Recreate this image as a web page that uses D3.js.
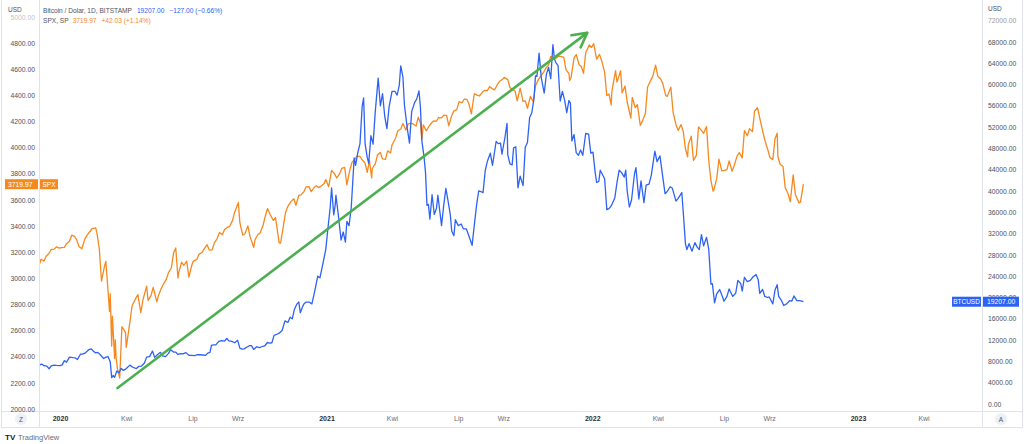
<!DOCTYPE html>
<html><head><meta charset="utf-8">
<script src="https://cdn.jsdelivr.net/npm/d3@7"></script>
<style>
html,body{margin:0;padding:0;background:#fff;}
svg{display:block;font-family:"Liberation Sans",Arial,sans-serif;}
</style></head>
<body>
<svg id="chart" width="1024" height="444"></svg>
<script>
// ---------------- DATA ----------------
const btcDates = ["2019-12-03","2019-12-07","2019-12-10","2019-12-14","2019-12-17","2019-12-20","2019-12-24","2019-12-27","2020-01-01","2020-01-04","2020-01-07","2020-01-10","2020-01-14","2020-01-19","2020-01-22","2020-01-25","2020-01-29","2020-02-01","2020-02-05","2020-02-09","2020-02-13","2020-02-16","2020-02-19","2020-02-22","2020-02-25","2020-03-01","2020-03-04","2020-03-07","2020-03-10","2020-03-12","2020-03-14","2020-03-16","2020-03-19","2020-03-22","2020-03-25","2020-03-28","2020-04-01","2020-04-06","2020-04-10","2020-04-15","2020-04-18","2020-04-22","2020-04-26","2020-04-29","2020-05-03","2020-05-07","2020-05-10","2020-05-14","2020-05-18","2020-05-21","2020-05-25","2020-05-29","2020-06-01","2020-06-05","2020-06-08","2020-06-11","2020-06-15","2020-06-18","2020-06-22","2020-06-26","2020-06-30","2020-07-04","2020-07-07","2020-07-11","2020-07-15","2020-07-19","2020-07-22","2020-07-25","2020-07-27","2020-07-30","2020-08-02","2020-08-06","2020-08-10","2020-08-14","2020-08-17","2020-08-20","2020-08-24","2020-08-28","2020-09-01","2020-09-04","2020-09-07","2020-09-10","2020-09-14","2020-09-17","2020-09-20","2020-09-23","2020-09-27","2020-10-01","2020-10-05","2020-10-08","2020-10-12","2020-10-15","2020-10-18","2020-10-21","2020-10-25","2020-10-28","2020-11-01","2020-11-05","2020-11-09","2020-11-12","2020-11-15","2020-11-18","2020-11-21","2020-11-24","2020-11-26","2020-11-29","2020-12-01","2020-12-04","2020-12-08","2020-12-12","2020-12-16","2020-12-20","2020-12-23","2020-12-27","2020-12-31","2021-01-03","2021-01-06","2021-01-08","2021-01-11","2021-01-13","2021-01-14","2021-01-17","2021-01-21","2021-01-24","2021-01-27","2021-01-29","2021-02-01","2021-02-04","2021-02-08","2021-02-10","2021-02-13","2021-02-16","2021-02-19","2021-02-21","2021-02-23","2021-02-26","2021-02-28","2021-03-03","2021-03-06","2021-03-09","2021-03-13","2021-03-16","2021-03-19","2021-03-22","2021-03-25","2021-03-28","2021-04-01","2021-04-05","2021-04-08","2021-04-11","2021-04-13","2021-04-16","2021-04-18","2021-04-22","2021-04-25","2021-04-28","2021-05-02","2021-05-05","2021-05-08","2021-05-10","2021-05-12","2021-05-15","2021-05-17","2021-05-19","2021-05-21","2021-05-23","2021-05-26","2021-05-29","2021-06-01","2021-06-03","2021-06-06","2021-06-08","2021-06-11","2021-06-14","2021-06-17","2021-06-20","2021-06-22","2021-06-25","2021-06-27","2021-07-01","2021-07-05","2021-07-08","2021-07-12","2021-07-15","2021-07-20","2021-07-23","2021-07-26","2021-07-29","2021-08-01","2021-08-04","2021-08-07","2021-08-10","2021-08-14","2021-08-17","2021-08-22","2021-08-25","2021-08-28","2021-08-30","2021-09-03","2021-09-06","2021-09-07","2021-09-10","2021-09-13","2021-09-15","2021-09-18","2021-09-21","2021-09-24","2021-09-28","2021-10-01","2021-10-04","2021-10-07","2021-10-10","2021-10-13","2021-10-15","2021-10-17","2021-10-20","2021-10-23","2021-10-27","2021-10-30","2021-11-02","2021-11-05","2021-11-08","2021-11-10","2021-11-12","2021-11-15","2021-11-18","2021-11-21","2021-11-24","2021-11-27","2021-11-30","2021-12-02","2021-12-04","2021-12-07","2021-12-10","2021-12-13","2021-12-16","2021-12-19","2021-12-23","2021-12-27","2021-12-30","2022-01-02","2022-01-05","2022-01-07","2022-01-10","2022-01-12","2022-01-15","2022-01-18","2022-01-21","2022-01-24","2022-01-27","2022-02-01","2022-02-04","2022-02-07","2022-02-10","2022-02-14","2022-02-16","2022-02-18","2022-02-21","2022-02-24","2022-02-28","2022-03-02","2022-03-06","2022-03-09","2022-03-13","2022-03-16","2022-03-20","2022-03-23","2022-03-28","2022-03-31","2022-04-04","2022-04-07","2022-04-11","2022-04-14","2022-04-18","2022-04-21","2022-04-26","2022-04-29","2022-05-04","2022-05-06","2022-05-09","2022-05-11","2022-05-14","2022-05-18","2022-05-22","2022-05-25","2022-05-28","2022-05-31","2022-06-03","2022-06-07","2022-06-10","2022-06-13","2022-06-15","2022-06-18","2022-06-21","2022-06-25","2022-06-29","2022-07-01","2022-07-05","2022-07-08","2022-07-13","2022-07-17","2022-07-20","2022-07-24","2022-07-26","2022-07-29","2022-08-02","2022-08-06","2022-08-10","2022-08-14","2022-08-17","2022-08-19","2022-08-23","2022-08-26","2022-08-30","2022-09-01","2022-09-06","2022-09-09","2022-09-12","2022-09-14","2022-09-18","2022-09-21","2022-09-25","2022-09-29","2022-10-02","2022-10-05","2022-10-09","2022-10-13","2022-10-16","2022-10-18"];
const btcValues = [7300,7500,7200,7100,6620,7150,7300,7250,7200,7350,8150,7850,8800,8700,8650,8350,9350,9350,9600,10150,10350,9900,9600,9700,9300,8550,8800,8900,7900,4950,5350,5000,6200,5850,6700,6300,6650,7300,6900,6650,7050,7130,7700,8800,8900,9950,8750,9300,9700,9050,8900,9500,10200,9750,9750,9300,9450,9400,9650,9150,9150,9100,9250,9250,9200,9150,9550,9700,11000,11100,11100,11750,11900,11800,12300,11850,11750,11500,11950,10500,10300,10350,10700,10950,10950,10250,10750,10600,10800,10900,11550,11450,11500,12900,13100,13300,13800,15600,15300,16300,16000,17800,18700,19150,17150,18200,18800,19150,19150,18800,21300,24000,23700,26300,29000,33000,36800,40600,35500,37400,39200,35800,30800,32300,30400,34300,33500,36900,46200,44800,47200,48900,55900,57500,48900,46300,45200,50400,48800,54900,61200,56000,58300,54000,51700,55800,58700,58700,58000,59900,63500,61400,56200,51700,49000,54900,56600,57300,58800,55800,49400,46400,43500,37300,37500,34700,39300,35600,36700,39200,35800,33500,37300,40500,38100,35600,32500,31600,34600,33500,33800,32900,32900,31800,29800,33600,37200,40000,39900,39700,43800,45600,47100,44800,49300,48900,49000,46900,50000,52700,46800,45100,44900,48100,48300,40600,42800,41000,48200,49100,53800,54700,57400,61600,61500,65900,61300,58400,61900,63200,61100,67500,64900,64100,63600,56900,58700,57100,54700,57000,56500,49400,50600,47200,46700,47700,46700,50800,50700,47100,47300,43500,41600,41800,43900,43100,42300,36500,36700,37200,38700,41600,43900,43500,42600,43900,40000,37000,38300,43200,44400,38500,41900,37800,41100,41300,42900,47500,45500,46600,43500,39500,39900,40800,40500,38100,38600,39700,36000,30100,29000,30100,28700,30300,29500,29000,31800,29700,31300,29100,22500,22600,19000,20700,21500,20100,19300,20200,21600,20200,20800,23200,22600,21200,23800,23000,23200,23900,24300,23300,20800,21500,20200,20000,20100,18800,21400,22400,20200,19400,18500,18800,19400,19300,20300,19400,19400,19300,19207];

const spxDates = ["2019-12-03","2019-12-06","2019-12-10","2019-12-13","2019-12-17","2019-12-20","2019-12-24","2019-12-27","2019-12-31","2020-01-03","2020-01-07","2020-01-10","2020-01-14","2020-01-17","2020-01-21","2020-01-24","2020-01-27","2020-01-31","2020-02-04","2020-02-07","2020-02-11","2020-02-14","2020-02-19","2020-02-21","2020-02-24","2020-02-27","2020-03-02","2020-03-04","2020-03-09","2020-03-10","2020-03-12","2020-03-13","2020-03-16","2020-03-17","2020-03-18","2020-03-20","2020-03-23","2020-03-26","2020-03-31","2020-04-01","2020-04-06","2020-04-09","2020-04-14","2020-04-17","2020-04-21","2020-04-24","2020-04-29","2020-05-01","2020-05-05","2020-05-08","2020-05-13","2020-05-15","2020-05-19","2020-05-22","2020-05-26","2020-05-29","2020-06-02","2020-06-05","2020-06-08","2020-06-11","2020-06-12","2020-06-16","2020-06-19","2020-06-23","2020-06-26","2020-06-30","2020-07-02","2020-07-07","2020-07-10","2020-07-14","2020-07-17","2020-07-21","2020-07-24","2020-07-28","2020-07-31","2020-08-04","2020-08-07","2020-08-11","2020-08-14","2020-08-18","2020-08-21","2020-08-25","2020-08-28","2020-09-02","2020-09-04","2020-09-08","2020-09-11","2020-09-15","2020-09-18","2020-09-23","2020-09-25","2020-09-29","2020-10-02","2020-10-06","2020-10-09","2020-10-12","2020-10-16","2020-10-20","2020-10-23","2020-10-28","2020-10-30","2020-11-04","2020-11-06","2020-11-09","2020-11-13","2020-11-17","2020-11-20","2020-11-24","2020-11-27","2020-12-01","2020-12-04","2020-12-08","2020-12-11","2020-12-15","2020-12-18","2020-12-21","2020-12-24","2020-12-29","2020-12-31","2021-01-04","2021-01-08","2021-01-12","2021-01-15","2021-01-19","2021-01-22","2021-01-26","2021-01-29","2021-02-02","2021-02-05","2021-02-09","2021-02-12","2021-02-16","2021-02-19","2021-02-23","2021-02-26","2021-03-01","2021-03-04","2021-03-05","2021-03-09","2021-03-12","2021-03-16","2021-03-19","2021-03-23","2021-03-26","2021-03-30","2021-04-01","2021-04-06","2021-04-09","2021-04-13","2021-04-16","2021-04-20","2021-04-23","2021-04-27","2021-04-30","2021-05-04","2021-05-07","2021-05-10","2021-05-12","2021-05-14","2021-05-18","2021-05-21","2021-05-25","2021-05-28","2021-06-01","2021-06-04","2021-06-08","2021-06-11","2021-06-15","2021-06-18","2021-06-22","2021-06-25","2021-06-29","2021-07-02","2021-07-06","2021-07-09","2021-07-13","2021-07-16","2021-07-19","2021-07-23","2021-07-27","2021-07-30","2021-08-03","2021-08-06","2021-08-10","2021-08-13","2021-08-17","2021-08-20","2021-08-24","2021-08-27","2021-08-31","2021-09-02","2021-09-07","2021-09-10","2021-09-14","2021-09-17","2021-09-20","2021-09-24","2021-09-28","2021-10-01","2021-10-04","2021-10-08","2021-10-12","2021-10-15","2021-10-19","2021-10-22","2021-10-26","2021-10-29","2021-11-02","2021-11-05","2021-11-09","2021-11-12","2021-11-16","2021-11-19","2021-11-23","2021-11-26","2021-11-30","2021-12-01","2021-12-03","2021-12-07","2021-12-10","2021-12-14","2021-12-17","2021-12-20","2021-12-23","2021-12-28","2021-12-31","2022-01-03","2022-01-07","2022-01-11","2022-01-14","2022-01-18","2022-01-21","2022-01-24","2022-01-27","2022-01-28","2022-02-02","2022-02-04","2022-02-09","2022-02-11","2022-02-15","2022-02-18","2022-02-23","2022-02-25","2022-03-01","2022-03-04","2022-03-08","2022-03-11","2022-03-15","2022-03-18","2022-03-22","2022-03-25","2022-03-29","2022-04-01","2022-04-05","2022-04-08","2022-04-12","2022-04-14","2022-04-19","2022-04-22","2022-04-26","2022-04-29","2022-05-03","2022-05-06","2022-05-09","2022-05-12","2022-05-13","2022-05-17","2022-05-20","2022-05-24","2022-05-27","2022-05-31","2022-06-03","2022-06-07","2022-06-10","2022-06-13","2022-06-16","2022-06-17","2022-06-21","2022-06-24","2022-06-28","2022-07-01","2022-07-05","2022-07-08","2022-07-12","2022-07-15","2022-07-19","2022-07-22","2022-07-26","2022-07-29","2022-08-02","2022-08-05","2022-08-09","2022-08-12","2022-08-16","2022-08-19","2022-08-23","2022-08-26","2022-08-30","2022-09-02","2022-09-06","2022-09-09","2022-09-12","2022-09-13","2022-09-16","2022-09-20","2022-09-23","2022-09-27","2022-09-30","2022-10-04","2022-10-07","2022-10-12","2022-10-14","2022-10-18"];
const spxValues = [3093,3146,3132,3169,3192,3221,3223,3240,3231,3235,3237,3265,3283,3330,3321,3295,3244,3226,3298,3328,3358,3380,3386,3338,3226,2979,3090,3130,2747,2882,2481,2711,2386,2529,2398,2305,2237,2630,2585,2471,2664,2790,2846,2875,2737,2837,2940,2831,2868,2930,2820,2864,2922,2955,2992,3044,3081,3194,3232,3002,3041,3124,3098,3131,3009,3100,3130,3145,3185,3197,3225,3257,3216,3218,3271,3306,3351,3333,3373,3390,3397,3443,3508,3580,3427,3331,3341,3401,3319,3237,3298,3335,3348,3408,3477,3534,3484,3443,3465,3271,3270,3443,3510,3551,3585,3610,3558,3635,3638,3662,3699,3702,3663,3694,3709,3694,3703,3727,3756,3701,3825,3801,3768,3799,3841,3849,3714,3826,3887,3911,3934,3932,3907,3881,3811,3901,3768,3842,3875,3943,3963,3913,3910,3975,3959,4020,4074,4129,4142,4185,4135,4180,4187,4181,4165,4233,4188,4063,4174,4128,4156,4188,4204,4202,4230,4227,4247,4246,4166,4246,4281,4291,4352,4343,4370,4369,4327,4258,4412,4401,4395,4423,4437,4436,4468,4449,4442,4486,4509,4523,4537,4520,4459,4443,4433,4358,4455,4353,4357,4300,4391,4351,4471,4520,4545,4575,4605,4631,4697,4685,4683,4700,4698,4691,4595,4567,4513,4538,4687,4712,4634,4620,4568,4725,4786,4766,4796,4677,4713,4663,4577,4398,4410,4326,4432,4589,4501,4588,4419,4471,4349,4225,4385,4306,4329,4170,4204,4262,4463,4512,4543,4631,4546,4525,4488,4397,4392,4462,4272,4175,4132,4176,4123,3991,3930,4024,4088,3901,3941,4158,4132,4109,4161,3901,3750,3667,3675,3765,3912,3822,3825,3831,3899,3819,3863,3937,3962,3921,4130,4091,4145,4122,4280,4305,4228,4128,4058,3986,3924,3908,4067,4110,3932,3873,3856,3693,3647,3586,3791,3640,3577,3583,3720];

const arrowDates = ["2020-03-20","2021-12-25"];
const arrowBtcValues = [3000,69700];

const spxTicks = [2000,2200,2400,2600,2800,3000,3200,3400,3600,3800,4000,4200,4400,4600,4800,5000];
const btcTicks = [0,4000,8000,12000,16000,20000,24000,28000,32000,36000,40000,44000,48000,52000,56000,60000,64000,68000,72000];
const timeTickDates = ["2020-01-01","2020-04-01","2020-07-01","2020-09-01","2021-01-01","2021-04-01","2021-07-01","2021-09-01","2022-01-01","2022-04-01","2022-07-01","2022-09-01","2023-01-01","2023-04-01"];
const timeTickLabels = ["2020","Kwi","Lip","Wrz","2021","Kwi","Lip","Wrz","2022","Kwi","Lip","Wrz","2023","Kwi"];

// ---------------- DRAW ----------------
const parse = d3.utcParse("%Y-%m-%d");
const svg = d3.select("#chart");
const W = 1024;
const plot = {left: 39, right: 982, top: 0, bottom: 411};
const BLUE = "#2e62f5", ORANGE = "#f5891f", GREEN = "#4caf50";
const TXT = "#4e515b";

const x = d3.scaleUtc().domain([parse("2020-01-01"), parse("2023-01-01")]).range([60, 858]);
const ySpx = d3.scaleLinear().domain([2000, 5000]).range([409, 16.9]);
const yBtc = d3.scaleLinear().domain([0, 72000]).range([404, 20.6]);

// frame
const frame = svg.append("g").attr("stroke", "#e0e3eb").attr("stroke-width", 1).attr("shape-rendering", "crispEdges");
frame.append("line").attr("x1", plot.left + 0.5).attr("x2", plot.left + 0.5).attr("y1", 0).attr("y2", 427);
frame.append("line").attr("x1", plot.right + 0.5).attr("x2", plot.right + 0.5).attr("y1", 0).attr("y2", 427);
frame.append("line").attr("x1", 1).attr("x2", 1023).attr("y1", plot.bottom + 0.5).attr("y2", plot.bottom + 0.5);
frame.append("line").attr("x1", 1).attr("x2", 1023).attr("y1", 427.5).attr("y2", 427.5);
frame.append("line").attr("x1", 1.5).attr("x2", 1.5).attr("y1", 0).attr("y2", 427);
frame.append("line").attr("x1", 1022.5).attr("x2", 1022.5).attr("y1", 0).attr("y2", 427);

svg.append("clipPath").attr("id", "clip").append("rect")
  .attr("x", plot.left + 1).attr("y", 0).attr("width", plot.right - plot.left - 1).attr("height", plot.bottom);

const spxData = spxDates.map((d, i) => ({date: parse(d), value: spxValues[i]}));
const btcData = btcDates.map((d, i) => ({date: parse(d), value: btcValues[i]}));

const g = svg.append("g").attr("clip-path", "url(#clip)");
g.append("path").datum(spxData)
  .attr("fill", "none").attr("stroke", ORANGE).attr("stroke-width", 1.3).attr("stroke-linejoin", "round")
  .attr("d", d3.line().x(d => x(d.date)).y(d => ySpx(d.value)));
g.append("path").datum(btcData)
  .attr("fill", "none").attr("stroke", BLUE).attr("stroke-width", 1.3).attr("stroke-linejoin", "round")
  .attr("d", d3.line().x(d => x(d.date)).y(d => yBtc(d.value)));

// arrow
const a0 = [x(parse(arrowDates[0])), yBtc(arrowBtcValues[0])];
const a1 = [x(parse(arrowDates[1])), yBtc(arrowBtcValues[1])];
const ang = Math.atan2(a1[1] - a0[1], a1[0] - a0[0]);
const hl = 16, ha = 0.5;
const h1 = [a1[0] - hl * Math.cos(ang - ha), a1[1] - hl * Math.sin(ang - ha)];
const h2 = [a1[0] - hl * Math.cos(ang + ha), a1[1] - hl * Math.sin(ang + ha)];
g.append("line").attr("x1", a0[0]).attr("y1", a0[1]).attr("x2", a1[0]).attr("y2", a1[1])
  .attr("stroke", GREEN).attr("stroke-width", 2.6).attr("stroke-linecap", "round");
g.append("path").attr("d", d3.line()([h1, a1, h2]))
  .attr("fill", "none").attr("stroke", GREEN).attr("stroke-width", 2.6).attr("stroke-linecap", "round").attr("stroke-linejoin", "round");

// left axis
const fmt = d3.format(".2f");
const la = svg.append("g").attr("transform", "translate(35,0)")
  .call(d3.axisLeft(ySpx).tickValues(spxTicks).tickFormat(fmt).tickSize(0).tickPadding(0));
la.select(".domain").remove();
la.selectAll("text").attr("fill", TXT).attr("font-size", 6.8).attr("font-family", "Liberation Sans, Arial, sans-serif")
  .attr("opacity", d => d === 5000 ? 0.35 : 1);

// right axis
const ra = svg.append("g").attr("transform", "translate(988,0)")
  .call(d3.axisRight(yBtc).tickValues(btcTicks).tickFormat(fmt).tickSize(0).tickPadding(0));
ra.select(".domain").remove();
ra.selectAll("text").attr("fill", TXT).attr("font-size", 6.8).attr("font-family", "Liberation Sans, Arial, sans-serif")
  .attr("opacity", d => d === 72000 ? 0.6 : 1);

// bottom axis
const labelMap = new Map(timeTickDates.map((d, i) => [+parse(d), timeTickLabels[i]]));
const ba = svg.append("g").attr("transform", "translate(0,416)")
  .call(d3.axisBottom(x).tickValues(timeTickDates.map(parse)).tickFormat(d => labelMap.get(+d)).tickSize(0).tickPadding(0));
ba.select(".domain").remove();
ba.selectAll("text").attr("fill", TXT).attr("font-size", 7).attr("font-family", "Liberation Sans, Arial, sans-serif")
  .attr("font-weight", d => /^\d+$/.test(labelMap.get(+d)) ? "bold" : "normal")
  .attr("fill", d => /^\d+$/.test(labelMap.get(+d)) ? "#2a2e39" : "#6a6d78");

// Z / A buttons
[[21, "Z"], [1001, "A"]].forEach(([cx, t]) => {
  svg.append("circle").attr("cx", cx).attr("cy", 419).attr("r", 6).attr("fill", "#eef0f4");
  svg.append("text").attr("x", cx).attr("y", 421.5).attr("text-anchor", "middle").attr("font-size", 6.5).attr("fill", "#50535e").text(t);
});

// USD labels
svg.append("text").attr("x", 8).attr("y", 12).attr("font-size", 6.5).attr("fill", TXT).text("USD");
svg.append("text").attr("x", 988).attr("y", 11).attr("font-size", 6.5).attr("fill", TXT).text("USD");

// legend
const leg1 = svg.append("text").attr("x", 43).attr("y", 12.5).attr("font-size", 6.6);
leg1.append("tspan").attr("fill", "#50535e").text("Bitcoin / Dolar, 1D, BITSTAMP");
leg1.append("tspan").attr("fill", BLUE).attr("dx", 5).text(fmt(btcValues[btcValues.length - 1]));
leg1.append("tspan").attr("fill", BLUE).attr("dx", 5).text("\u2212127.00 (\u22120.66%)");
const leg2 = svg.append("text").attr("x", 43).attr("y", 22.5).attr("font-size", 6.6);
leg2.append("tspan").attr("fill", "#50535e").text("SPX, SP");
leg2.append("tspan").attr("fill", ORANGE).attr("dx", 4).text(fmt(spxValues[spxValues.length - 1] - 0.03));
leg2.append("tspan").attr("fill", ORANGE).attr("dx", 5).text("+42.03 (+1.14%)");

// price tags
const spxLast = spxValues[spxValues.length - 1] - 0.03;
const ys = ySpx(spxLast);
svg.append("rect").attr("x", 5).attr("y", ys - 5).attr("width", 33).attr("height", 10).attr("fill", ORANGE);
svg.append("text").attr("x", 8).attr("y", ys + 2.4).attr("font-size", 6.8).attr("fill", "#fff").text(fmt(spxLast));
svg.append("rect").attr("x", 40).attr("y", ys - 5).attr("width", 18).attr("height", 10).attr("fill", ORANGE);
svg.append("text").attr("x", 49).attr("y", ys + 2.4).attr("text-anchor", "middle").attr("font-size", 6.5).attr("fill", "#fff").text("SPX");

const btcLast = btcValues[btcValues.length - 1];
const yb = yBtc(btcLast);
svg.append("rect").attr("x", 952).attr("y", yb - 5).attr("width", 29).attr("height", 10).attr("fill", BLUE);
svg.append("text").attr("x", 966.5).attr("y", yb + 2.4).attr("text-anchor", "middle").attr("font-size", 6.5).attr("fill", "#fff").text("BTCUSD");
svg.append("rect").attr("x", 983).attr("y", yb - 5).attr("width", 36).attr("height", 10).attr("fill", BLUE);
svg.append("text").attr("x", 987).attr("y", yb + 2.4).attr("font-size", 6.8).attr("fill", "#fff").text(fmt(btcLast));

// TradingView logo
svg.append("text").attr("x", 5).attr("y", 440).attr("font-size", 8).attr("font-weight", "bold").attr("fill", "#131722").text("TV");
svg.append("text").attr("x", 18).attr("y", 440).attr("font-size", 7.5).attr("fill", "#6a6d78").text("TradingView");
</script>
</body></html>
